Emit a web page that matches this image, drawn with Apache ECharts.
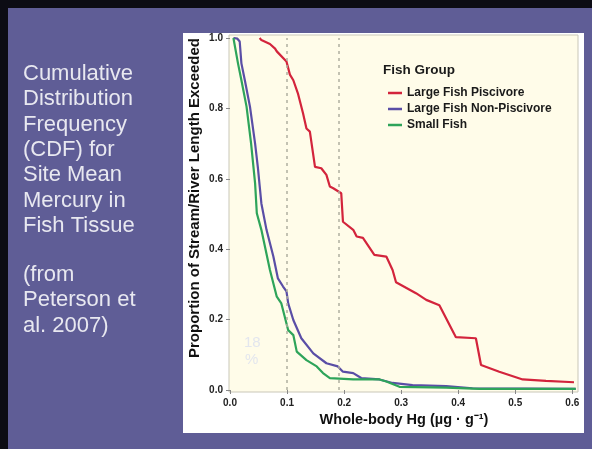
<!DOCTYPE html>
<html>
<head>
<meta charset="utf-8">
<script src="https://cdn.jsdelivr.net/npm/echarts@6/dist/echarts.min.js"></script>
<style>
html,body{margin:0;padding:0;background:#5f5d96;}
#chart{width:592px;height:449px;}
</style>
</head>
<body>
<div id="chart"></div>
<script>
// ---- Data ----
const seriesNames = ['Large Fish Piscivore', 'Large Fish Non-Piscivore', 'Small Fish'];

const piscivoreHg   = [0.052,0.055,0.070,0.079,0.082,0.099,0.105,0.111,0.119,0.128,0.134,0.140,0.149,0.160,0.169,0.175,0.181,0.195,0.198,0.216,0.222,0.233,0.253,0.274,0.285,0.291,0.326,0.344,0.367,0.396,0.431,0.440,0.472,0.513,0.554,0.603];
const piscivoreProp = [1.000,0.994,0.983,0.970,0.962,0.933,0.896,0.880,0.843,0.786,0.743,0.734,0.634,0.630,0.611,0.578,0.573,0.559,0.478,0.455,0.436,0.432,0.384,0.379,0.341,0.306,0.275,0.256,0.241,0.150,0.147,0.071,0.052,0.030,0.026,0.022];

const nonPiscHg   = [0.006,0.013,0.017,0.020,0.026,0.035,0.044,0.049,0.052,0.055,0.064,0.076,0.084,0.093,0.099,0.102,0.111,0.125,0.146,0.169,0.189,0.198,0.216,0.230,0.262,0.285,0.320,0.379,0.425,0.606];
const nonPiscProp = [1.000,0.998,0.990,0.928,0.880,0.805,0.700,0.630,0.580,0.530,0.455,0.379,0.317,0.294,0.280,0.246,0.199,0.147,0.104,0.076,0.067,0.052,0.048,0.034,0.030,0.020,0.014,0.011,0.005,0.003];

const smallHg   = [0.006,0.014,0.020,0.029,0.037,0.044,0.047,0.055,0.070,0.082,0.090,0.099,0.102,0.111,0.117,0.134,0.152,0.163,0.175,0.216,0.262,0.274,0.297,0.379,0.437,0.606];
const smallProp = [1.000,0.928,0.880,0.805,0.700,0.587,0.502,0.455,0.341,0.265,0.246,0.189,0.170,0.156,0.109,0.085,0.067,0.048,0.034,0.030,0.030,0.024,0.009,0.007,0.003,0.003];

const referenceLinesHg = [0.1, 0.188];
const sideTitleLines = ['Cumulative','Distribution','Frequency','(CDF) for','Site Mean','Mercury in','Fish Tissue'];
const sourceLines = ['(from','Peterson et','al. 2007)'];
const yTitle = 'Proportion of Stream/River Length Exceeded';
const xTitle = 'Whole-body Hg (µg · g⁻¹)';

const zip = (xs, ys) => xs.map((x, i) => [x, ys[i]]);
const colors = ['#d3243c', '#5a4ea6', '#2ea45a'];
const FONT = '"Liberation Sans", Arial, sans-serif';

const chart = echarts.init(document.getElementById('chart'));

const graphics = [
  {type:'rect', shape:{x:0,y:0,width:592,height:8}, style:{fill:'#0c0c14'}, z:-5, silent:true},
  {type:'rect', shape:{x:0,y:0,width:8,height:449}, style:{fill:'#0c0c14'}, z:-5, silent:true},
  {type:'rect', shape:{x:183,y:33,width:401,height:400}, style:{fill:'#ffffff'}, z:-4, silent:true},
  {type:'rect', shape:{x:229,y:35,width:349,height:357}, style:{fill:'#fffce9', stroke:'#c9c7b8', lineWidth:1}, z:-3, silent:true},
  {type:'text', left:383, top:63, style:{text:'Fish Group', fill:'#1a1a1a', font:'bold 13.5px ' + FONT}},
  {type:'text', left:244, top:335, style:{text:'18', fill:'#e3e6ee', font:'15px ' + FONT}},
  {type:'text', left:245, top:352, style:{text:'%', fill:'#e3e6ee', font:'15px ' + FONT}},
  {type:'text', x:195, y:198, rotation:Math.PI / 2,
   style:{text:yTitle, fill:'#111', font:'bold 15px ' + FONT, align:'center', verticalAlign:'middle'}}
];
sideTitleLines.forEach((t, i) => {
  graphics.push({type:'text', left:23, top:63 + i * 25.3, style:{text:t, fill:'#e8e8f0', font:'22px ' + FONT}});
});
sourceLines.forEach((t, i) => {
  graphics.push({type:'text', left:23, top:264 + i * 25.3, style:{text:t, fill:'#e8e8f0', font:'22px ' + FONT}});
});

const seriesData = [zip(piscivoreHg, piscivoreProp), zip(nonPiscHg, nonPiscProp), zip(smallHg, smallProp)];

const series = seriesNames.map((name, i) => ({
  name: name,
  type: 'line',
  data: seriesData[i],
  showSymbol: false,
  symbol: 'none',
  lineStyle: {width: 2.2, color: colors[i]},
  itemStyle: {color: colors[i]},
  animation: false
}));
series[0].markLine = {
  silent: true,
  symbol: ['none', 'none'],
  label: {show: false},
  lineStyle: {color: '#b0aea0', type: [3, 4], width: 1.5},
  data: referenceLinesHg.map(v => ({xAxis: v}))
};

chart.setOption({
  backgroundColor: '#5f5d96',
  animation: false,
  textStyle: {fontFamily: FONT},
  graphic: graphics,
  grid: {left: 230, top: 38, width: 348, height: 352, containLabel: false},
  legend: {
    data: seriesNames,
    orient: 'vertical',
    left: 383,
    top: 81,
    icon: 'rect',
    itemWidth: 14,
    itemHeight: 2.5,
    itemGap: 2,
    textStyle: {fontSize: 12, fontWeight: 'bold', color: '#1a1a1a', lineHeight: 14, fontFamily: FONT}
  },
  xAxis: {
    type: 'value',
    min: 0, max: 0.61, interval: 0.1,
    name: xTitle,
    nameLocation: 'middle',
    nameGap: 20,
    nameTextStyle: {fontSize: 14.5, fontWeight: 'bold', color: '#111', fontFamily: FONT},
    axisLine: {show: false},
    axisTick: {show: true, length: 4, lineStyle: {color: '#888'}},
    axisLabel: {
      showMaxLabel: false,
      fontSize: 10, fontWeight: 'bold', color: '#222', margin: 8,
      formatter: v => (Math.abs(v * 10 - Math.round(v * 10)) < 1e-6 ? v.toFixed(1) : '')
    },
    splitLine: {show: false}
  },
  yAxis: {
    type: 'value',
    min: 0, max: 1, interval: 0.2,
    axisLine: {show: false},
    axisTick: {show: true, length: 4, lineStyle: {color: '#888'}},
    axisLabel: {fontSize: 10, fontWeight: 'bold', color: '#222', margin: 7, formatter: v => v.toFixed(1)},
    splitLine: {show: false}
  },
  series: series
});
</script>
</body>
</html>
